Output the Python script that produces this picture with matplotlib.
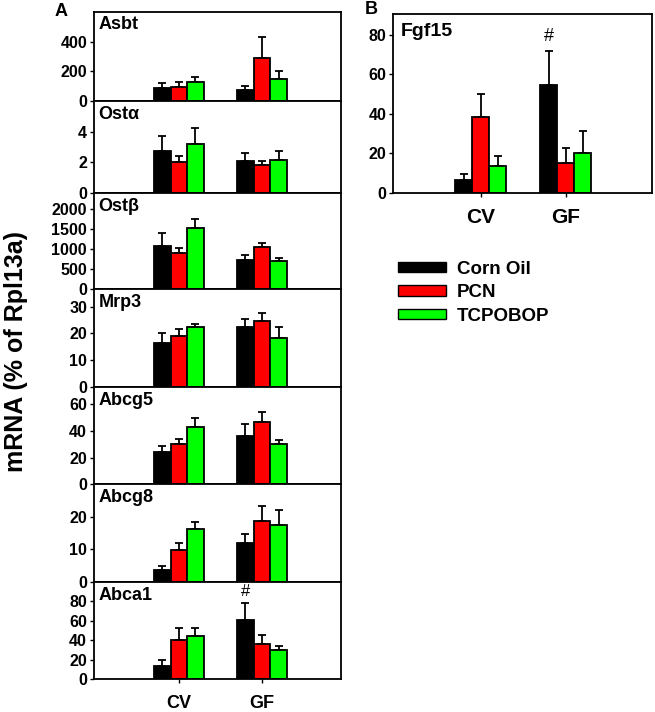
import matplotlib
matplotlib.use('Agg')
import matplotlib.pyplot as plt
import numpy as np
from matplotlib.patches import Patch

plt.rcParams['font.family'] = ['Liberation Sans', 'DejaVu Sans']
plt.rcParams['font.weight'] = 'bold'

groups = ['CV', 'GF']
treatments = ['Corn Oil', 'PCN', 'TCPOBOP']
colors = ['#000000', '#ff0000', '#00ff00']

# panel A genes (rows: CV, GF; cols: Corn Oil, PCN, TCPOBOP)
genes = ['Asbt', 'Ostα', 'Ostβ', 'Mrp3', 'Abcg5', 'Abcg8', 'Abca1']
asbt_mean = [[90, 92, 125], [73, 291, 147]]
asbt_err = [[32, 37, 37], [27, 142, 55]]
osta_mean = [[2.76, 2.04, 3.16], [2.09, 1.80, 2.15]]
osta_err = [[0.97, 0.33, 1.08], [0.48, 0.27, 0.61]]
ostb_mean = [[1083, 900, 1525], [740, 1050, 715]]
ostb_err = [[317, 125, 225], [100, 100, 75]]
mrp3_mean = [[16.3, 19.0, 22.3], [22.3, 24.7, 18.4]]
mrp3_err = [[3.9, 2.5, 1.2], [3.1, 3.0, 3.9]]
abcg5_mean = [[23.8, 30.0, 42.9], [35.8, 46.6, 30.3]]
abcg5_err = [[5.2, 3.8, 6.7], [9.5, 7.2, 3.0]]
abcg8_mean = [[3.7, 9.8, 16.1], [11.8, 18.8, 17.6]]
abcg8_err = [[1.2, 2.0, 2.4], [3.0, 4.6, 4.5]]
abca1_mean = [[14.0, 40.7, 44.8], [60.6, 36.2, 29.6]]
abca1_err = [[5.3, 12.1, 8.0], [17.3, 9.6, 4.8]]

# panel B
fgf15_mean = [[6.4, 38.2, 13.5], [54.5, 14.9, 19.9]]
fgf15_err = [[3.1, 11.8, 5.1], [17.2, 7.6, 11.3]]

means = [asbt_mean, osta_mean, ostb_mean, mrp3_mean, abcg5_mean, abcg8_mean, abca1_mean]
errs = [asbt_err, osta_err, ostb_err, mrp3_err, abcg5_err, abcg8_err, abca1_err]
ylims = [600, 6, 2400, 36.5, 73, 30, 100]
yticks = [[0, 200, 400], [0, 2, 4], [0, 500, 1000, 1500, 2000], [0, 10, 20, 30],
          [0, 20, 40, 60], [0, 10, 20], [0, 20, 40, 60, 80]]

W, H = 655, 712
fig = plt.figure(figsize=(W / 100, H / 100), dpi=100)

bw = 0.2
x = np.arange(len(groups))


def draw(ax, mean, err, ylim, ticks, title, tsize, tx):
    mean = np.array(mean)
    err = np.array(err)
    for k in range(len(treatments)):
        pos = x + (k - 1) * bw
        ax.bar(pos, mean[:, k], bw, color=colors[k], edgecolor='black', linewidth=1.3, zorder=2)
        ax.errorbar(pos, mean[:, k], yerr=[np.zeros(len(groups)), err[:, k]], fmt='none',
                    ecolor='black', elinewidth=1.3, capsize=3, capthick=1.3, zorder=1)
    ax.set_xlim(-1.02, 1.95)
    ax.set_ylim(0, ylim)
    ax.set_yticks(ticks)
    ax.tick_params(axis='y', direction='out', length=3, width=1, labelsize=11.5, pad=2)
    for s in ax.spines.values():
        s.set_linewidth(1.3)
    ax.text(tx, 0.95, title, transform=ax.transAxes, ha='left', va='top',
            fontsize=tsize, fontweight='bold')


# panel A
edges = [12, 101, 192.7, 289.3, 386.7, 484.3, 581.7, 679.3]
left_a, right_a = 94, 341
for i, g in enumerate(genes):
    top, bot = edges[i], edges[i + 1]
    ax = fig.add_axes([left_a / W, 1 - bot / H, (right_a - left_a) / W, (bot - top) / H])
    draw(ax, means[i], errs[i], ylims[i], yticks[i], g, 13, 0.018)
    if i == len(genes) - 1:
        ax.set_xticks(x)
        ax.set_xticklabels(groups, fontsize=13, fontweight='bold')
        ax.tick_params(axis='x', direction='out', length=3, width=1, pad=8)
    else:
        ax.set_xticks([])
    if g == 'Abca1':
        ax.text(x[1] - bw, 82, '#', ha='center', va='bottom', fontsize=12, fontweight='normal')

fig.text(16 / W, 1 - 352 / H, 'mRNA (% of Rpl13a)', rotation=90, ha='center', va='center',
         fontsize=18, fontweight='bold')
fig.text(55 / W, 1 - 12 / H, 'A', ha='left', va='center', fontsize=13, fontweight='bold')

# panel B
ax = fig.add_axes([393.3 / W, 1 - 192.7 / H, (651.7 - 393.3) / W, (192.7 - 14) / H])
draw(ax, fgf15_mean, fgf15_err, 90.5, [0, 20, 40, 60, 80], 'Fgf15', 14, 0.027)
ax.set_xlim(-1.03, 2.01)
ax.set_xticks(x)
ax.set_xticklabels(groups, fontsize=15, fontweight='bold')
ax.tick_params(axis='x', direction='out', length=3, width=1, pad=8)
ax.text(x[1] - bw, 75, '#', ha='center', va='bottom', fontsize=13, fontweight='normal')
fig.text(365 / W, 1 - 10 / H, 'B', ha='left', va='center', fontsize=13, fontweight='bold')

handles = [Patch(facecolor=c, edgecolor='black', linewidth=1) for c in colors]
fig.legend(handles, treatments, loc='upper left', bbox_to_anchor=(390 / W, 1 - 253 / H),
           frameon=False, fontsize=13.5, handlelength=2.6, handleheight=0.5,
           labelspacing=0.35, handletextpad=0.55, borderaxespad=0)

fig.savefig('out.png', dpi=100)
